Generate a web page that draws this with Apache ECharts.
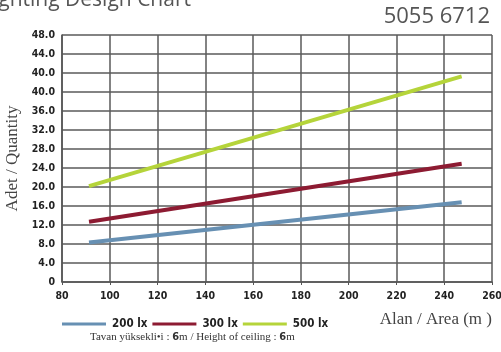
<!DOCTYPE html>
<html>
<head>
	<meta charset="utf-8">
	<title>Lighting Design Chart</title>
	<style>
		html, body { margin: 0; padding: 0; background: #fff; }
		#container { width: 501px; height: 352px; }
	</style>
</head>
<body>
<script type="text/javascript" src="https://cdn.jsdelivr.net/npm/echarts@6/dist/echarts.min.js"></script>
<div id="container"></div>
<script type="text/javascript">
    // values (y in axis units, 4 per grid row)
    var seriesNames = ['200 lx', '300 lx', '500 lx'];
    var areaX = [91.3, 247.3];
    var lux200 = [8.3, 16.8];
    var lux300 = [12.7, 24.9];
    var lux500 = [20.2, 43.3];
    // tick labels as printed on the chart (the second 40.0 is in the original)
    var yTickLabels = ['0', '4.0', '8.0', '12.0', '16.0', '20.0', '24.0', '28.0',
        '32.0', '36.0', '40.0', '40.0', '44.0', '48.0'];
    var colors = ['#6790b3', '#8d1b32', '#b5d43a'];

    function pairs(ys) {
        return ys.map(function (y, i) { return [areaX[i], y]; });
    }

    var myChart = echarts.init(document.getElementById('container'));
    var labelFont = {
        color: '#222',
        fontFamily: 'DejaVu Sans Condensed',
        fontWeight: 'bold',
        fontSize: 10.5
    };

    var option = {
        animation: false,
        color: colors,
        grid: { left: 62, right: 9, top: 35, bottom: 70, containLabel: false, outerBoundsMode: 'none' },
        xAxis: {
            type: 'value',
            min: 80,
            max: 260,
            interval: 20,
            axisLine: { lineStyle: { color: '#555', width: 1.5 } },
            axisTick: { show: true, length: 3, lineStyle: { color: '#555' } },
            axisLabel: Object.assign({ margin: 9 }, labelFont),
            splitLine: { show: true, lineStyle: { color: '#5a5a5a', width: 1.5 } }
        },
        yAxis: {
            type: 'value',
            min: 0,
            max: 52,
            interval: 4,
            name: 'Adet / Quantity',
            nameLocation: 'middle',
            nameGap: 34,
            nameTextStyle: {
                fontFamily: 'Liberation Serif',
                fontSize: 17,
                color: '#444'
            },
            axisLine: { show: true, lineStyle: { color: '#555', width: 1.5 } },
            axisTick: { show: false },
            axisLabel: Object.assign({
                margin: 7,
                formatter: function (v) { return yTickLabels[Math.round(v / 4)]; }
            }, labelFont),
            splitLine: { show: true, lineStyle: { color: '#5a5a5a', width: 1.5 } }
        },
        legend: {
            left: 57,
            top: 313,
            icon: 'rect',
            itemWidth: 44,
            itemHeight: 3,
            itemGap: 5,
            data: seriesNames,
            textStyle: {
                color: '#222',
                fontFamily: 'DejaVu Sans Condensed',
                fontWeight: 'bold',
                fontSize: 11.5,
                padding: [0, 0, 0, 1]
            }
        },
        graphic: [
            {
                type: 'text', left: -18, top: -10,
                style: { text: 'Lighting Design Chart', font: '21px "Open Sans"', fill: '#555' }
            },
            {
                type: 'text', right: 11, top: 6,
                style: { text: '5055 6712', font: '22px "Open Sans"', fill: '#555' }
            },
            {
                type: 'text', right: 9, top: 311,
                style: { text: 'Alan / Area (m )', font: '17px "Liberation Serif"', fill: '#444' }
            },
            {
                type: 'text', left: 90, top: 332,
                style: {
                    text: '{s|Tavan yüksekli•i : }{b|6}{s|m / Height of ceiling : }{b|6}{s|m}',
                    rich: {
                        s: { font: '11px "Liberation Serif"', fill: '#333' },
                        b: { font: 'bold 11px "DejaVu Sans Condensed"', fill: '#333' }
                    }
                }
            }
        ],
        series: [
            { name: seriesNames[0], type: 'line', data: pairs(lux200), symbol: 'none', lineStyle: { width: 4 } },
            { name: seriesNames[1], type: 'line', data: pairs(lux300), symbol: 'none', lineStyle: { width: 4 } },
            { name: seriesNames[2], type: 'line', data: pairs(lux500), symbol: 'none', lineStyle: { width: 4 } }
        ]
    };
    myChart.setOption(option);
    window.addEventListener('resize', myChart.resize);
</script>
</body>
</html>
